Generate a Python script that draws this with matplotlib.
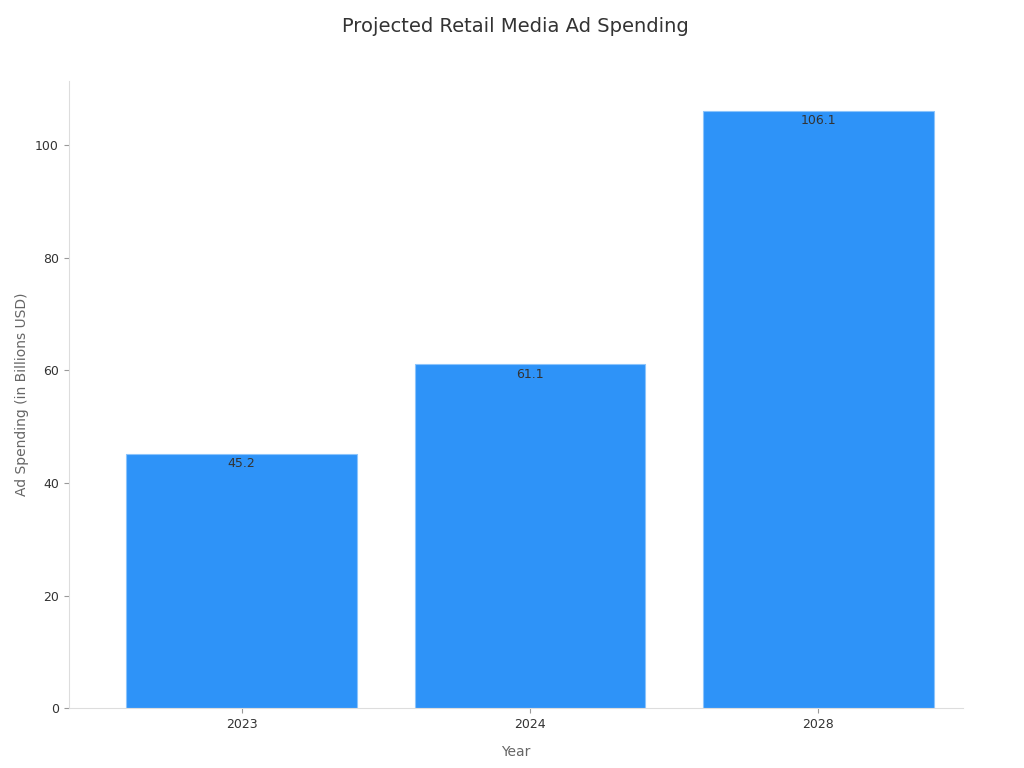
import matplotlib.pyplot as plt

years = ['2023', '2024', '2028']
spending = [45.2, 61.1, 106.1]

fig, ax = plt.subplots(figsize=(10.24, 7.68), dpi=100)
fig.subplots_adjust(left=0.067, right=0.94, top=0.895, bottom=0.078)

bars = ax.bar(years, spending, width=0.8, color='#2e93f8', edgecolor='#8cc4fb', linewidth=0.8)
for b, v in zip(bars, spending):
    ax.text(b.get_x() + b.get_width() / 2, v - 0.6, f'{v}', ha='center', va='top',
            fontsize=9, color='#333333')

ax.set_title('Projected Retail Media Ad Spending', fontsize=14, color='#333333', pad=35)
ax.set_xlabel('Year', fontsize=10, color='#666666', labelpad=10)
ax.set_ylabel('Ad Spending (in Billions USD)', fontsize=10, color='#666666')
ax.set_xlim(-0.6, 2.5)
ax.set_ylim(0, 111.5)
for s in ['top', 'right']:
    ax.spines[s].set_visible(False)
for s in ['left', 'bottom']:
    ax.spines[s].set_color('#dddddd')
ax.tick_params(colors='#333333', labelsize=9)
ax.tick_params(axis='both', color='#999999')

fig.savefig('out.png')
